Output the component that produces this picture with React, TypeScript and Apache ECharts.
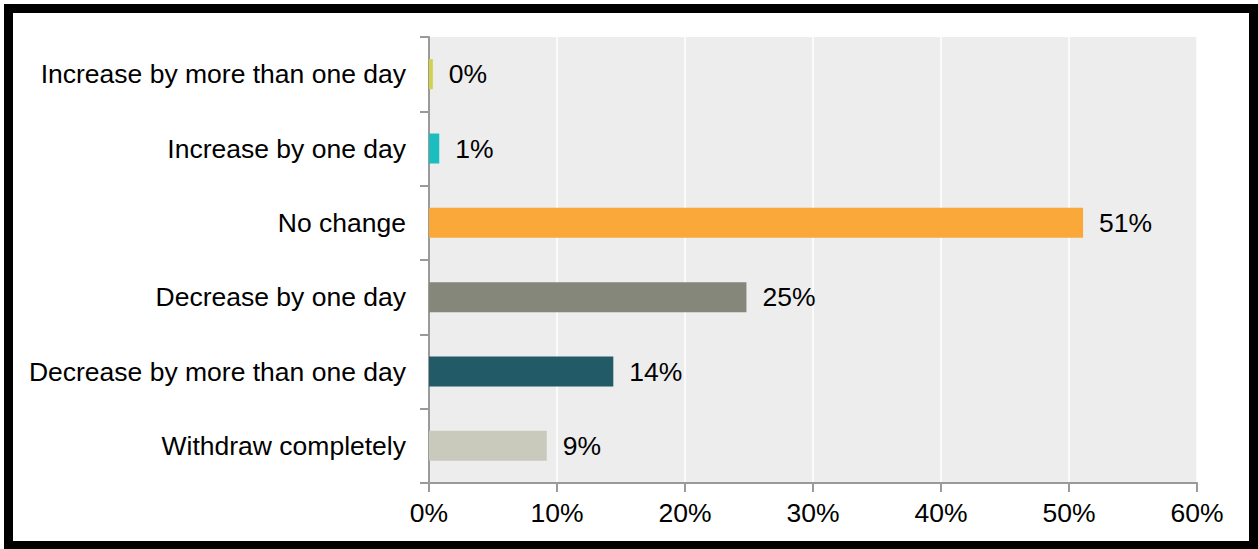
import React, { useEffect, useRef } from "react";
import * as echarts from "echarts";

const categories = [
  "Increase by more than one day",
  "Increase by one day",
  "No change",
  "Decrease by one day",
  "Decrease by more than one day",
  "Withdraw completely",
];
const values = [0.3, 0.8, 51.1, 24.8, 14.4, 9.2];
const barColors = ["#D3D14B", "#1BBDBE", "#F9A839", "#85877A", "#225B67", "#C9CABC"];
const xTicks = [0, 10, 20, 30, 40, 50, 60];

export default function App() {
  const ref = useRef<HTMLDivElement>(null);
  useEffect(() => {
    if (!ref.current) return;
    const chart = echarts.init(ref.current, null, { renderer: "svg" });
    const font = "Liberation Sans, Arial, sans-serif";
    const fs = 26.5;
    chart.setOption({
      animation: false,
      backgroundColor: "#ffffff",
      grid: { left: 429, top: 37, width: 768, height: 446, containLabel: false, show: true, backgroundColor: "#EDEDED", borderWidth: 0 },
      xAxis: {
        type: "value",
        min: xTicks[0],
        max: xTicks[xTicks.length - 1],
        interval: 10,
        axisLine: { show: true, lineStyle: { color: "#9A9A9A", width: 2 } },
        axisTick: { show: true, length: 9, lineStyle: { color: "#9A9A9A", width: 2 } },
        axisLabel: { formatter: (v: number) => v + "%", color: "#000", fontFamily: font, fontSize: fs, margin: 16 },
        splitLine: { show: true, lineStyle: { color: "#FFFFFF", width: 1.5 } },
      },
      yAxis: {
        type: "category",
        data: categories,
        inverse: true,
        axisLine: { show: true, lineStyle: { color: "#9A9A9A", width: 2 } },
        axisTick: { show: true, length: 9, lineStyle: { color: "#9A9A9A", width: 2 } },
        axisLabel: { color: "#000", fontFamily: font, fontSize: fs, margin: 23 },
        splitLine: { show: false },
      },
      series: [
        {
          type: "bar",
          data: values.map((v, i) => ({ value: v, itemStyle: { color: barColors[i] } })),
          barWidth: 30,
          label: {
            show: true,
            position: "right",
            distance: 16,
            color: "#000",
            fontFamily: font,
            fontSize: fs,
            formatter: (p: any) => Math.round(p.value) + "%",
          },
        },
      ],
      graphic: [
        {
          type: "rect",
          shape: { x: 8.5, y: 8.5, width: 1245, height: 537 },
          style: { fill: "none", stroke: "#000", lineWidth: 9 },
          z: 100,
        },
      ],
    });
    return () => chart.dispose();
  }, []);
  return (
    <div style={{ position: "fixed", left: 0, top: 0, width: 1258, height: 549 }}>
      <div ref={ref} style={{ width: 1258, height: 549 }} />
    </div>
  );
}
